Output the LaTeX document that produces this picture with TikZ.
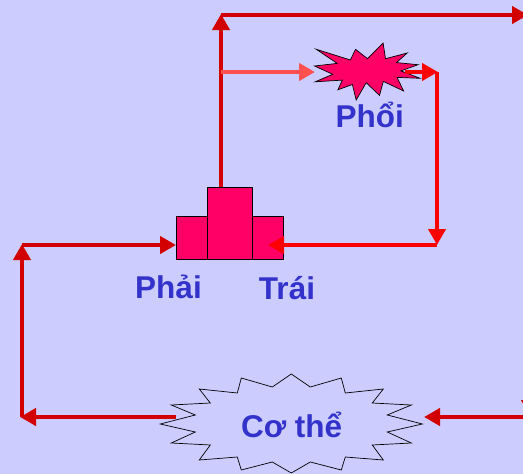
\documentclass[tikz,border=0pt]{standalone}
\usepackage{fontspec}
\setmainfont{Liberation Sans}
\usetikzlibrary{arrows.meta}
\definecolor{bgc}{RGB}{204,204,255}
\definecolor{dkred}{RGB}{210,0,0}
\definecolor{brred}{RGB}{255,0,0}
\definecolor{salm}{RGB}{255,80,80}
\definecolor{heartc}{RGB}{255,0,102}
\definecolor{txtc}{RGB}{51,51,204}
\tikzset{
  dk/.style={draw=dkred, line width=4.5pt, -{Triangle[length=16pt,width=17pt]}},
  br/.style={draw=brred, line width=4.5pt, -{Triangle[length=16pt,width=17pt]}},
  sal/.style={draw=salm, line width=4.5pt, -{Triangle[length=16pt,width=17pt]}},
  heartbox/.style={draw=black, line width=0.8pt, fill=heartc, inner sep=0pt, anchor=north west},
  lbl/.style={text=txtc, font=\bfseries\fontsize{31.5}{31.5}\selectfont, anchor=base, inner sep=0pt},
}
\begin{document}
\begin{tikzpicture}[x=1pt,y=-1pt]
\useasboundingbox (0,0) rectangle (523,474);
\fill[bgc] (0,0) rectangle (523,474);
% lung (explosion)
\draw[fill=heartc, line width=0.7pt, line join=miter]
 (367.5,58.6) -- (355.5,49.3) -- (350.4,60.0) -- (316.3,49.3) -- (337.2,63.4) -- (314.5,66.0)
 -- (332.8,74.3) -- (315.2,81.8) -- (342.3,80.1) -- (337.9,89.8) -- (352.4,84.5) -- (356.2,100)
 -- (366.2,82.7) -- (379.5,95.4) -- (383.3,81.4) -- (403.6,91.0) -- (397.1,77.4) -- (420,78.3)
 -- (400.9,70.9) -- (418.0,64.7) -- (396.5,62.6) -- (407.2,53.0) -- (385.5,58.7) -- (383.1,43) -- cycle;
% body star
\begin{scope}[shift={(291.3,424)}]
\draw[line width=0.7pt]
 (0,-50) -- (19,-37) -- (50,-46) -- (54,-31) -- (92,-35) -- (81,-21) -- (120,-19) -- (96,-9)
 -- (131,0) -- (96,8) -- (120,19) -- (81,21) -- (92,36) -- (54,33) -- (50,46) -- (19,38)
 -- (0,49) -- (-19,38) -- (-50,46) -- (-54,33) -- (-92,36) -- (-81,21) -- (-120,19) -- (-96,8)
 -- (-131,0) -- (-96,-9) -- (-120,-19) -- (-81,-21) -- (-92,-35) -- (-54,-31) -- (-50,-46) -- (-19,-37) -- cycle;
\end{scope}
% heart
\node[heartbox, minimum width=30.7pt, minimum height=43pt] (hl) at (176,216) {};
\node[heartbox, minimum width=31pt, minimum height=43pt] (hr) at (252.3,216) {};
\node[heartbox, minimum width=45.6pt, minimum height=71.7pt] (hm) at (206.7,187.3) {};
% coordinates
\coordinate (aorta) at (221,187.3);
\coordinate (topL) at (221,14);
\coordinate (topL2) at (221,15);
\coordinate (topR) at (528,15);
\coordinate (offR1) at (530,15);
\coordinate (offR2) at (530,416);
\coordinate (offR3) at (532,417);
\coordinate (bodyR) at (424,417);
\coordinate (bodyL) at (176,417);
\coordinate (botL) at (20,417);
\coordinate (botL2) at (22,417);
\coordinate (leftT) at (22,244);
\coordinate (leftT2) at (22,245);
\coordinate (hlIn) at (176,245);
\coordinate (pulL) at (221,72);
\coordinate (lungL) at (315,72);
\coordinate (lungOut) at (405,72);
\coordinate (lungR) at (438,72);
\coordinate (lungR2) at (437,72);
\coordinate (corner) at (437,245);
\coordinate (hrIn) at (268,245);
% connectors
\draw[dk] (aorta) -- (topL);
\draw[dk] (topL2) -- (topR);
\draw[dk] (offR1) -- (offR2);
\draw[dk] (offR3) -- (bodyR);
\draw[dk] (bodyL) -- (botL);
\draw[dk] (botL2) -- (leftT);
\draw[dk] (leftT2) -- (hlIn);
\draw[sal] (pulL) -- (lungL);
\draw[br] (lungOut) -- (lungR);
\draw[br] (lungR2) -- (corner);
\draw[br] (corner) -- (hrIn);
% labels
\node[lbl] (tphoi) at (369.7,127) {Phổi};
\node[lbl] (tphai) at (168.5,298) {Phải};
\node[lbl] (ttrai) at (287,299) {Trái};
\node[lbl] (tcothe) at (291.7,437) {Cơ thể};
\end{tikzpicture}
\end{document}
